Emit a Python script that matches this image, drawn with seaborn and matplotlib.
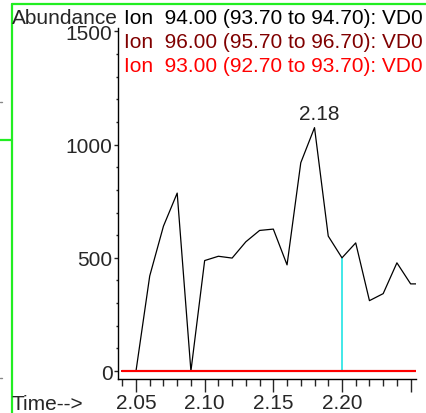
import numpy as np
import matplotlib
matplotlib.use("Agg")
import matplotlib.pyplot as plt
from matplotlib.lines import Line2D
from matplotlib.ticker import FixedLocator, MultipleLocator
import seaborn as sns

# scan times (min) and ion abundances
times = [2.04, 2.05, 2.06, 2.07, 2.08, 2.09, 2.10, 2.11, 2.12, 2.13, 2.14,
         2.15, 2.16, 2.17, 2.18, 2.19, 2.20, 2.21, 2.22, 2.23, 2.24, 2.25, 2.26]
ion94 = [0, 0, 420, 640, 786, 0, 488, 507, 499, 571, 621,
         627, 469, 920, 1075, 596, 500, 566, 311, 342, 478, 385, 385]
ion96 = [0] * len(times)
ion93 = [0] * len(times)

ion_labels = ["Ion  94.00 (93.70 to 94.70): VD0",
              "Ion  96.00 (95.70 to 96.70): VD0",
              "Ion  93.00 (92.70 to 93.70): VD0"]
ion_colors = ["black", "#800000", "#ff0000"]

peak_time = 2.18
marker_time = 2.20
x_major = [2.05, 2.10, 2.15, 2.20, 2.25]
x_major_labels = ["2.05", "2.10", "2.15", "2.20", ""]
y_major = [0, 500, 1000, 1500]

sns.set_style("white")
plt.rcParams['font.family'] = ['Liberation Sans', 'DejaVu Sans']
FS = 15

W, H = 426, 414
fig = plt.figure(figsize=(W / 100, H / 100), dpi=100)
ax = fig.add_axes([118 / W, (H - 380) / H, (416 - 118) / W, 351 / H])

sns.lineplot(x=times, y=ion94, color=ion_colors[0], lw=0.9, ax=ax)
sns.lineplot(x=times, y=ion96, color=ion_colors[1], lw=1.5, ax=ax)
sns.lineplot(x=times, y=ion93, color=ion_colors[2], lw=1.5, ax=ax)

# cursor line at 2.20 up to the trace
marker_val = ion94[times.index(marker_time)]
ax.vlines(marker_time, 0, marker_val, color="#33e6e6", lw=1.3, zorder=1)

# apex label
peak_val = ion94[times.index(peak_time)]
ax.annotate(f"{peak_time:.2f}", (peak_time, peak_val), xytext=(3.5, 3),
            textcoords="offset points", ha="center", va="bottom", fontsize=FS)

ax.set_xlim(2.0369, 2.2539)
ax.set_ylim(-35, 1515)
for s in ["top", "right"]:
    ax.spines[s].set_visible(False)
for s in ["left", "bottom"]:
    ax.spines[s].set_linewidth(1.0)
    ax.spines[s].set_color("black")

ax.xaxis.set_major_locator(FixedLocator(x_major))
ax.set_xticklabels(x_major_labels)
ax.xaxis.set_minor_locator(MultipleLocator(0.01))
ax.yaxis.set_major_locator(FixedLocator(y_major))
ax.set_yticklabels([str(v) for v in y_major])
ax.yaxis.set_minor_locator(MultipleLocator(100))
ax.tick_params(axis="x", which="major", direction="out", length=9, width=1,
               pad=1, labelsize=FS, bottom=True)
ax.tick_params(axis="x", which="minor", direction="out", length=4.8, width=1,
               bottom=True)
ax.tick_params(axis="y", which="major", direction="out", length=3, width=1,
               pad=1, labelsize=FS, left=True)
ax.tick_params(axis="y", which="minor", direction="out", length=1.5, width=1,
               left=True)
ax.set_xlabel("")
ax.set_ylabel("")

# header texts
fig.text(12 / W, 1 - 18 / H, "Abundance", fontsize=FS, va="center", ha="left")
for i, (lab, col) in enumerate(zip(ion_labels, ion_colors)):
    fig.text(124 / W, 1 - (18 + 24 * i) / H, lab, fontsize=FS, color=col,
             va="center", ha="left")
fig.text(12 / W, 1 - 405 / H, "Time-->", fontsize=FS, va="center", ha="left")

# green window frame
green = "#22ee22"
fig.add_artist(Line2D([11.5 / W, 11.5 / W], [0, 1 - 5 / H], color=green, lw=1.6))
fig.add_artist(Line2D([11.5 / W, 1], [1 - 5 / H, 1 - 5 / H], color=green, lw=1.6))
fig.add_artist(Line2D([0, 11.5 / W], [1 - 141 / H, 1 - 141 / H], color=green, lw=1.6))

# stray grey marks at the far left edge
for py in (103, 379):
    fig.add_artist(Line2D([0, 2 / W], [1 - py / H, 1 - py / H], color="#888888", lw=1))

fig.savefig("out.png", dpi=100)
